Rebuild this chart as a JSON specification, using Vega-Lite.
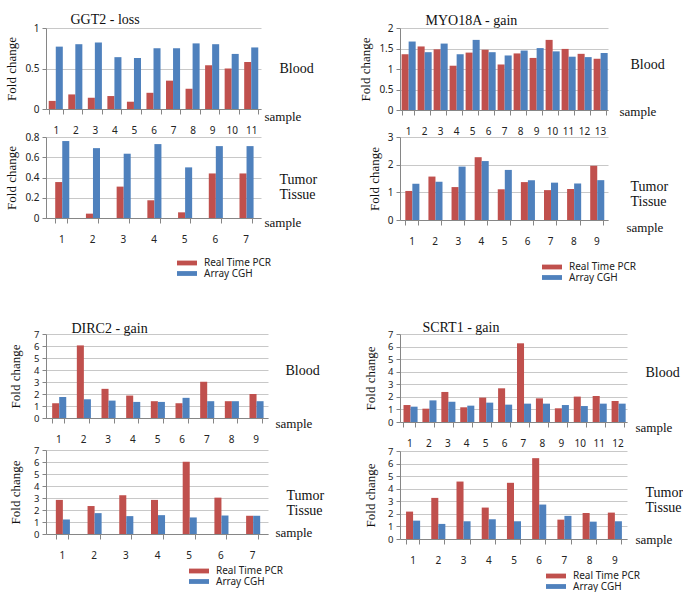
{
"$schema": "https://vega.github.io/schema/vega-lite/v6.json",
"padding": {"left": 5, "top": 12, "right": 0, "bottom": 0},
"background": "white",
"datasets": {
"ggt2_blood": [
{"sample":1,"series":"Real Time PCR","value":0.10},{"sample":1,"series":"Array CGH","value":0.77},
{"sample":2,"series":"Real Time PCR","value":0.18},{"sample":2,"series":"Array CGH","value":0.80},
{"sample":3,"series":"Real Time PCR","value":0.14},{"sample":3,"series":"Array CGH","value":0.82},
{"sample":4,"series":"Real Time PCR","value":0.16},{"sample":4,"series":"Array CGH","value":0.64},
{"sample":5,"series":"Real Time PCR","value":0.09},{"sample":5,"series":"Array CGH","value":0.63},
{"sample":6,"series":"Real Time PCR","value":0.20},{"sample":6,"series":"Array CGH","value":0.75},
{"sample":7,"series":"Real Time PCR","value":0.35},{"sample":7,"series":"Array CGH","value":0.75},
{"sample":8,"series":"Real Time PCR","value":0.25},{"sample":8,"series":"Array CGH","value":0.81},
{"sample":9,"series":"Real Time PCR","value":0.54},{"sample":9,"series":"Array CGH","value":0.80},
{"sample":10,"series":"Real Time PCR","value":0.50},{"sample":10,"series":"Array CGH","value":0.68},
{"sample":11,"series":"Real Time PCR","value":0.58},{"sample":11,"series":"Array CGH","value":0.76}
],
"ggt2_tumor": [
{"sample":1,"series":"Real Time PCR","value":0.355},{"sample":1,"series":"Array CGH","value":0.76},
{"sample":2,"series":"Real Time PCR","value":0.043},{"sample":2,"series":"Array CGH","value":0.69},
{"sample":3,"series":"Real Time PCR","value":0.31},{"sample":3,"series":"Array CGH","value":0.635},
{"sample":4,"series":"Real Time PCR","value":0.175},{"sample":4,"series":"Array CGH","value":0.73},
{"sample":5,"series":"Real Time PCR","value":0.056},{"sample":5,"series":"Array CGH","value":0.50},
{"sample":6,"series":"Real Time PCR","value":0.44},{"sample":6,"series":"Array CGH","value":0.71},
{"sample":7,"series":"Real Time PCR","value":0.44},{"sample":7,"series":"Array CGH","value":0.71}
],
"myo_blood": [
{"sample":1,"series":"Real Time PCR","value":1.36},{"sample":1,"series":"Array CGH","value":1.67},
{"sample":2,"series":"Real Time PCR","value":1.55},{"sample":2,"series":"Array CGH","value":1.41},
{"sample":3,"series":"Real Time PCR","value":1.48},{"sample":3,"series":"Array CGH","value":1.62},
{"sample":4,"series":"Real Time PCR","value":1.08},{"sample":4,"series":"Array CGH","value":1.36},
{"sample":5,"series":"Real Time PCR","value":1.40},{"sample":5,"series":"Array CGH","value":1.71},
{"sample":6,"series":"Real Time PCR","value":1.47},{"sample":6,"series":"Array CGH","value":1.41},
{"sample":7,"series":"Real Time PCR","value":1.11},{"sample":7,"series":"Array CGH","value":1.33},
{"sample":8,"series":"Real Time PCR","value":1.38},{"sample":8,"series":"Array CGH","value":1.45},
{"sample":9,"series":"Real Time PCR","value":1.27},{"sample":9,"series":"Array CGH","value":1.51},
{"sample":10,"series":"Real Time PCR","value":1.71},{"sample":10,"series":"Array CGH","value":1.43},
{"sample":11,"series":"Real Time PCR","value":1.49},{"sample":11,"series":"Array CGH","value":1.30},
{"sample":12,"series":"Real Time PCR","value":1.37},{"sample":12,"series":"Array CGH","value":1.29},
{"sample":13,"series":"Real Time PCR","value":1.25},{"sample":13,"series":"Array CGH","value":1.39}
],
"myo_tumor": [
{"sample":1,"series":"Real Time PCR","value":1.05},{"sample":1,"series":"Array CGH","value":1.31},
{"sample":2,"series":"Real Time PCR","value":1.57},{"sample":2,"series":"Array CGH","value":1.38},
{"sample":3,"series":"Real Time PCR","value":1.19},{"sample":3,"series":"Array CGH","value":1.93},
{"sample":4,"series":"Real Time PCR","value":2.27},{"sample":4,"series":"Array CGH","value":2.13},
{"sample":5,"series":"Real Time PCR","value":1.11},{"sample":5,"series":"Array CGH","value":1.81},
{"sample":6,"series":"Real Time PCR","value":1.37},{"sample":6,"series":"Array CGH","value":1.44},
{"sample":7,"series":"Real Time PCR","value":1.08},{"sample":7,"series":"Array CGH","value":1.35},
{"sample":8,"series":"Real Time PCR","value":1.12},{"sample":8,"series":"Array CGH","value":1.32},
{"sample":9,"series":"Real Time PCR","value":1.96},{"sample":9,"series":"Array CGH","value":1.44}
],
"dirc_blood": [
{"sample":1,"series":"Real Time PCR","value":1.23},{"sample":1,"series":"Array CGH","value":1.76},
{"sample":2,"series":"Real Time PCR","value":6.05},{"sample":2,"series":"Array CGH","value":1.56},
{"sample":3,"series":"Real Time PCR","value":2.43},{"sample":3,"series":"Array CGH","value":1.45},
{"sample":4,"series":"Real Time PCR","value":1.87},{"sample":4,"series":"Array CGH","value":1.34},
{"sample":5,"series":"Real Time PCR","value":1.40},{"sample":5,"series":"Array CGH","value":1.34},
{"sample":6,"series":"Real Time PCR","value":1.23},{"sample":6,"series":"Array CGH","value":1.68},
{"sample":7,"series":"Real Time PCR","value":3.02},{"sample":7,"series":"Array CGH","value":1.40},
{"sample":8,"series":"Real Time PCR","value":1.40},{"sample":8,"series":"Array CGH","value":1.40},
{"sample":9,"series":"Real Time PCR","value":2.00},{"sample":9,"series":"Array CGH","value":1.40}
],
"dirc_tumor": [
{"sample":1,"series":"Real Time PCR","value":2.84},{"sample":1,"series":"Array CGH","value":1.21},
{"sample":2,"series":"Real Time PCR","value":2.33},{"sample":2,"series":"Array CGH","value":1.74},
{"sample":3,"series":"Real Time PCR","value":3.23},{"sample":3,"series":"Array CGH","value":1.49},
{"sample":4,"series":"Real Time PCR","value":2.84},{"sample":4,"series":"Array CGH","value":1.57},
{"sample":5,"series":"Real Time PCR","value":6.02},{"sample":5,"series":"Array CGH","value":1.38},
{"sample":6,"series":"Real Time PCR","value":3.03},{"sample":6,"series":"Array CGH","value":1.54},
{"sample":7,"series":"Real Time PCR","value":1.52},{"sample":7,"series":"Array CGH","value":1.52}
],
"scrt_blood": [
{"sample":1,"series":"Real Time PCR","value":1.35},{"sample":1,"series":"Array CGH","value":1.22},
{"sample":2,"series":"Real Time PCR","value":1.06},{"sample":2,"series":"Array CGH","value":1.72},
{"sample":3,"series":"Real Time PCR","value":2.39},{"sample":3,"series":"Array CGH","value":1.62},
{"sample":4,"series":"Real Time PCR","value":1.17},{"sample":4,"series":"Array CGH","value":1.30},
{"sample":5,"series":"Real Time PCR","value":1.94},{"sample":5,"series":"Array CGH","value":1.54},
{"sample":6,"series":"Real Time PCR","value":2.68},{"sample":6,"series":"Array CGH","value":1.38},
{"sample":7,"series":"Real Time PCR","value":6.26},{"sample":7,"series":"Array CGH","value":1.46},
{"sample":8,"series":"Real Time PCR","value":1.88},{"sample":8,"series":"Array CGH","value":1.46},
{"sample":9,"series":"Real Time PCR","value":1.09},{"sample":9,"series":"Array CGH","value":1.35},
{"sample":10,"series":"Real Time PCR","value":2.02},{"sample":10,"series":"Array CGH","value":1.27},
{"sample":11,"series":"Real Time PCR","value":2.07},{"sample":11,"series":"Array CGH","value":1.46},
{"sample":12,"series":"Real Time PCR","value":1.67},{"sample":12,"series":"Array CGH","value":1.46}
],
"scrt_tumor": [
{"sample":1,"series":"Real Time PCR","value":2.18},{"sample":1,"series":"Array CGH","value":1.46},
{"sample":2,"series":"Real Time PCR","value":3.27},{"sample":2,"series":"Array CGH","value":1.20},
{"sample":3,"series":"Real Time PCR","value":4.57},{"sample":3,"series":"Array CGH","value":1.41},
{"sample":4,"series":"Real Time PCR","value":2.50},{"sample":4,"series":"Array CGH","value":1.57},
{"sample":5,"series":"Real Time PCR","value":4.47},{"sample":5,"series":"Array CGH","value":1.41},
{"sample":6,"series":"Real Time PCR","value":6.43},{"sample":6,"series":"Array CGH","value":2.74},
{"sample":7,"series":"Real Time PCR","value":1.54},{"sample":7,"series":"Array CGH","value":1.84},
{"sample":8,"series":"Real Time PCR","value":2.07},{"sample":8,"series":"Array CGH","value":1.38},
{"sample":9,"series":"Real Time PCR","value":2.10},{"sample":9,"series":"Array CGH","value":1.41}
]
},
"vconcat": [
{
"hconcat": [
{
"vconcat": [
{
"data": {"name": "ggt2_blood"}, "width": 215, "height": 81,
"layer": [
{"mark": "bar", "encoding": {
"x": {"field": "sample", "type": "ordinal", "scale": {"paddingInner": 0.28, "paddingOuter": 0.14}, "axis": {"title": "sample", "titleAnchor": "end", "titleAlign": "left", "titleBaseline": "middle", "titleX": 218, "titleY": 7}},
"xOffset": {"field": "series", "type": "nominal", "sort": ["Real Time PCR", "Array CGH"]},
"y": {"field": "value", "type": "quantitative", "scale": {"domain": [0, 1]}, "axis": {"values": [0, 0.5, 1], "title": "Fold change"}},
"color": {"field": "series", "type": "nominal", "scale": {"domain": ["Real Time PCR", "Array CGH"], "range": ["#C0504D", "#4F81BD"]}, "legend": null}}},
{"mark": {"type": "point", "opacity": 0}, "encoding": {
"x": {"field": "sample", "type": "ordinal", "axis": {"orient": "top", "title": "GGT2 - loss", "titleAnchor": "start", "titleAlign": "left", "titleBaseline": "middle", "titleX": 24, "titleY": -9, "titleFontSize": 14, "labels": false, "ticks": false, "domain": false, "grid": false}},
"y": {"field": "value", "type": "quantitative", "scale": {"domain": [0, 1]}, "axis": {"orient": "right", "title": "Blood", "titleAngle": 0, "titleAlign": "left", "titleBaseline": "middle", "titleX": 18, "titleY": 40, "titleFontSize": 14, "labels": false, "ticks": false, "domain": false, "grid": false}}}}
],
"resolve": {"scale": {"y": "independent", "x": "independent"}}
},
{
"data": {"name": "ggt2_tumor"}, "width": 215, "height": 81,
"layer": [
{"mark": "bar", "encoding": {
"x": {"field": "sample", "type": "ordinal", "scale": {"paddingInner": 0.6, "paddingOuter": 0.3}, "axis": {"title": "sample", "titleAnchor": "end", "titleAlign": "left", "titleBaseline": "middle", "titleX": 218, "titleY": 4}},
"xOffset": {"field": "series", "type": "nominal", "sort": ["Real Time PCR", "Array CGH"]},
"y": {"field": "value", "type": "quantitative", "scale": {"domain": [0, 0.8]}, "axis": {"values": [0, 0.2, 0.4, 0.6, 0.8], "title": "Fold change"}},
"color": {"field": "series", "type": "nominal", "scale": {"domain": ["Real Time PCR", "Array CGH"], "range": ["#C0504D", "#4F81BD"]}, "legend": {"title": null, "orient": "none", "legendX": 136, "legendY": 121}}}},
{"mark": {"type": "point", "opacity": 0}, "encoding": {
"y": {"field": "value", "type": "quantitative", "scale": {"domain": [0, 0.8]}, "axis": {"orient": "right", "title": ["Tumor", "Tissue"], "titleLineHeight": 15, "titleAngle": 0, "titleAlign": "left", "titleBaseline": "middle", "titleX": 18, "titleY": 42, "titleFontSize": 14, "labels": false, "ticks": false, "domain": false, "grid": false}}}}
],
"resolve": {"scale": {"y": "independent"}}
}
],
"spacing": -3,
"resolve": {"scale": {"color": "independent"}}
},
{
"vconcat": [
{
"data": {"name": "myo_blood"}, "width": 208, "height": 82,
"layer": [
{"mark": "bar", "encoding": {
"x": {"field": "sample", "type": "ordinal", "scale": {"paddingInner": 0.2, "paddingOuter": 0.1}, "axis": {"title": "sample", "titleAnchor": "end", "titleAlign": "left", "titleBaseline": "middle", "titleX": 219, "titleY": 1}},
"xOffset": {"field": "series", "type": "nominal", "sort": ["Real Time PCR", "Array CGH"]},
"y": {"field": "value", "type": "quantitative", "scale": {"domain": [0, 2]}, "axis": {"values": [0, 0.5, 1, 1.5, 2], "title": "Fold change"}},
"color": {"field": "series", "type": "nominal", "scale": {"domain": ["Real Time PCR", "Array CGH"], "range": ["#C0504D", "#4F81BD"]}, "legend": null}}},
{"mark": {"type": "point", "opacity": 0}, "encoding": {
"x": {"field": "sample", "type": "ordinal", "axis": {"orient": "top", "title": "MYO18A - gain", "titleAnchor": "start", "titleAlign": "left", "titleBaseline": "middle", "titleX": 25, "titleY": -8, "titleFontSize": 14, "labels": false, "ticks": false, "domain": false, "grid": false}},
"y": {"field": "value", "type": "quantitative", "scale": {"domain": [0, 2]}, "axis": {"orient": "right", "title": "Blood", "titleAngle": 0, "titleAlign": "left", "titleBaseline": "middle", "titleX": 22, "titleY": 36, "titleFontSize": 14, "labels": false, "ticks": false, "domain": false, "grid": false}}}}
],
"resolve": {"scale": {"y": "independent", "x": "independent"}}
},
{
"data": {"name": "myo_tumor"}, "width": 208, "height": 83,
"layer": [
{"mark": "bar", "encoding": {
"x": {"field": "sample", "type": "ordinal", "scale": {"paddingInner": 0.46, "paddingOuter": 0.23}, "axis": {"title": "sample", "titleAnchor": "end", "titleAlign": "left", "titleBaseline": "middle", "titleX": 226, "titleY": 7}},
"xOffset": {"field": "series", "type": "nominal", "sort": ["Real Time PCR", "Array CGH"]},
"y": {"field": "value", "type": "quantitative", "scale": {"domain": [0, 3]}, "axis": {"values": [0, 1, 2, 3], "title": "Fold change"}},
"color": {"field": "series", "type": "nominal", "scale": {"domain": ["Real Time PCR", "Array CGH"], "range": ["#C0504D", "#4F81BD"]}, "legend": {"title": null, "orient": "none", "legendX": 147, "legendY": 125}}}},
{"mark": {"type": "point", "opacity": 0}, "encoding": {
"y": {"field": "value", "type": "quantitative", "scale": {"domain": [0, 3]}, "axis": {"orient": "right", "title": ["Tumor", "Tissue"], "titleLineHeight": 15, "titleAngle": 0, "titleAlign": "left", "titleBaseline": "middle", "titleX": 22, "titleY": 49, "titleFontSize": 14, "labels": false, "ticks": false, "domain": false, "grid": false}}}}
],
"resolve": {"scale": {"y": "independent"}}
}
],
"spacing": -4,
"resolve": {"scale": {"color": "independent"}}
}
],
"spacing": 42,
"resolve": {"scale": {"color": "independent"}}
},
{
"hconcat": [
{
"vconcat": [
{
"data": {"name": "dirc_blood"}, "width": 222, "height": 84,
"layer": [
{"mark": "bar", "encoding": {
"x": {"field": "sample", "type": "ordinal", "scale": {"paddingInner": 0.5, "paddingOuter": 0.25}, "axis": {"title": "sample", "titleAnchor": "end", "titleAlign": "left", "titleBaseline": "middle", "titleX": 229, "titleY": 5}},
"xOffset": {"field": "series", "type": "nominal", "sort": ["Real Time PCR", "Array CGH"]},
"y": {"field": "value", "type": "quantitative", "scale": {"domain": [0, 7]}, "axis": {"values": [0, 1, 2, 3, 4, 5, 6, 7], "title": "Fold change", "titlePadding": 11, "labelFontSize": 9.5}},
"color": {"field": "series", "type": "nominal", "scale": {"domain": ["Real Time PCR", "Array CGH"], "range": ["#C0504D", "#4F81BD"]}, "legend": null}}},
{"mark": {"type": "point", "opacity": 0}, "encoding": {
"x": {"field": "sample", "type": "ordinal", "axis": {"orient": "top", "title": "DIRC2 - gain", "titleAnchor": "start", "titleAlign": "left", "titleBaseline": "middle", "titleX": 25, "titleY": -6, "titleFontSize": 14, "labels": false, "ticks": false, "domain": false, "grid": false}},
"y": {"field": "value", "type": "quantitative", "scale": {"domain": [0, 7]}, "axis": {"orient": "right", "title": "Blood", "titleAngle": 0, "titleAlign": "left", "titleBaseline": "middle", "titleX": 17, "titleY": 36, "titleFontSize": 14, "labels": false, "ticks": false, "domain": false, "grid": false}}}}
],
"resolve": {"scale": {"y": "independent", "x": "independent"}}
},
{
"data": {"name": "dirc_tumor"}, "width": 222, "height": 84,
"layer": [
{"mark": "bar", "encoding": {
"x": {"field": "sample", "type": "ordinal", "scale": {"paddingInner": 0.62, "paddingOuter": 0.31}, "axis": {"title": "sample", "titleAnchor": "end", "titleAlign": "left", "titleBaseline": "middle", "titleX": 229, "titleY": -2}},
"xOffset": {"field": "series", "type": "nominal", "sort": ["Real Time PCR", "Array CGH"]},
"y": {"field": "value", "type": "quantitative", "scale": {"domain": [0, 7]}, "axis": {"values": [0, 1, 2, 3, 4, 5, 6, 7], "title": "Fold change", "titlePadding": 11, "labelFontSize": 9.5}},
"color": {"field": "series", "type": "nominal", "scale": {"domain": ["Real Time PCR", "Array CGH"], "range": ["#C0504D", "#4F81BD"]}, "legend": {"title": null, "orient": "none", "legendX": 148, "legendY": 116}}}},
{"mark": {"type": "point", "opacity": 0}, "encoding": {
"y": {"field": "value", "type": "quantitative", "scale": {"domain": [0, 7]}, "axis": {"orient": "right", "title": ["Tumor", "Tissue"], "titleLineHeight": 15, "titleAngle": 0, "titleAlign": "left", "titleBaseline": "middle", "titleX": 18, "titleY": 45, "titleFontSize": 14, "labels": false, "ticks": false, "domain": false, "grid": false}}}}
],
"resolve": {"scale": {"y": "independent"}}
}
],
"spacing": 1,
"resolve": {"scale": {"color": "independent"}}
},
{
"vconcat": [
{
"data": {"name": "scrt_blood"}, "width": 227, "height": 88,
"layer": [
{"mark": "bar", "encoding": {
"x": {"field": "sample", "type": "ordinal", "scale": {"paddingInner": 0.37, "paddingOuter": 0.185}, "axis": {"title": "sample", "titleAnchor": "end", "titleAlign": "left", "titleBaseline": "middle", "titleX": 235, "titleY": 5}},
"xOffset": {"field": "series", "type": "nominal", "sort": ["Real Time PCR", "Array CGH"]},
"y": {"field": "value", "type": "quantitative", "scale": {"domain": [0, 7]}, "axis": {"values": [0, 1, 2, 3, 4, 5, 6, 7], "title": "Fold change", "titlePadding": 10, "labelFontSize": 9.5}},
"color": {"field": "series", "type": "nominal", "scale": {"domain": ["Real Time PCR", "Array CGH"], "range": ["#C0504D", "#4F81BD"]}, "legend": null}}},
{"mark": {"type": "point", "opacity": 0}, "encoding": {
"x": {"field": "sample", "type": "ordinal", "axis": {"orient": "top", "title": "SCRT1 - gain", "titleAnchor": "start", "titleAlign": "left", "titleBaseline": "middle", "titleX": 22, "titleY": -7, "titleFontSize": 14, "labels": false, "ticks": false, "domain": false, "grid": false}},
"y": {"field": "value", "type": "quantitative", "scale": {"domain": [0, 7]}, "axis": {"orient": "right", "title": "Blood", "titleAngle": 0, "titleAlign": "left", "titleBaseline": "middle", "titleX": 18, "titleY": 38, "titleFontSize": 14, "labels": false, "ticks": false, "domain": false, "grid": false}}}}
],
"resolve": {"scale": {"y": "independent", "x": "independent"}}
},
{
"data": {"name": "scrt_tumor"}, "width": 227, "height": 88,
"layer": [
{"mark": "bar", "encoding": {
"x": {"field": "sample", "type": "ordinal", "scale": {"paddingInner": 0.48, "paddingOuter": 0.24}, "axis": {"title": "sample", "titleAnchor": "end", "titleAlign": "left", "titleBaseline": "middle", "titleX": 235, "titleY": 0}},
"xOffset": {"field": "series", "type": "nominal", "sort": ["Real Time PCR", "Array CGH"]},
"y": {"field": "value", "type": "quantitative", "scale": {"domain": [0, 7]}, "axis": {"values": [0, 1, 2, 3, 4, 5, 6, 7], "title": "Fold change", "titlePadding": 10, "labelFontSize": 9.5}},
"color": {"field": "series", "type": "nominal", "scale": {"domain": ["Real Time PCR", "Array CGH"], "range": ["#C0504D", "#4F81BD"]}, "legend": {"title": null, "orient": "none", "legendX": 151, "legendY": 120}}}},
{"mark": {"type": "point", "opacity": 0}, "encoding": {
"y": {"field": "value", "type": "quantitative", "scale": {"domain": [0, 7]}, "axis": {"orient": "right", "title": ["Tumor", "Tissue"], "titleLineHeight": 15, "titleAngle": 0, "titleAlign": "left", "titleBaseline": "middle", "titleX": 18, "titleY": 41, "titleFontSize": 14, "labels": false, "ticks": false, "domain": false, "grid": false}}}}
],
"resolve": {"scale": {"y": "independent"}}
}
],
"spacing": -2,
"resolve": {"scale": {"color": "independent"}}
}
],
"spacing": 40,
"resolve": {"scale": {"color": "independent"}}
}
],
"spacing": 37,
"resolve": {"scale": {"color": "independent"}},
"config": {
"view": {"stroke": null},
"font": "Noto Sans",
"axis": {"labelFont": "Noto Sans", "labelFontSize": 10, "labelColor": "#222222", "titleFont": "Liberation Serif", "titleFontSize": 13, "titleFontWeight": "normal", "titleColor": "#111111", "domainColor": "#868686", "tickColor": "#868686", "gridColor": "#C8C8C8"},
"axisX": {"labelAngle": 0, "labelPadding": 11, "tickBand": "extent", "tickSize": 5, "grid": false},
"axisY": {"tickSize": 4, "labelPadding": 3, "format": "~g", "titlePadding": 6},
"legend": {"labelFont": "Noto Sans", "labelFontSize": 10, "labelColor": "#222222", "symbolType": "M-2.5,-0.6H2.5V0.6H-2.5Z", "symbolSize": 64, "symbolStrokeWidth": 0, "labelOffset": 12, "rowPadding": 0.5}
}
}
